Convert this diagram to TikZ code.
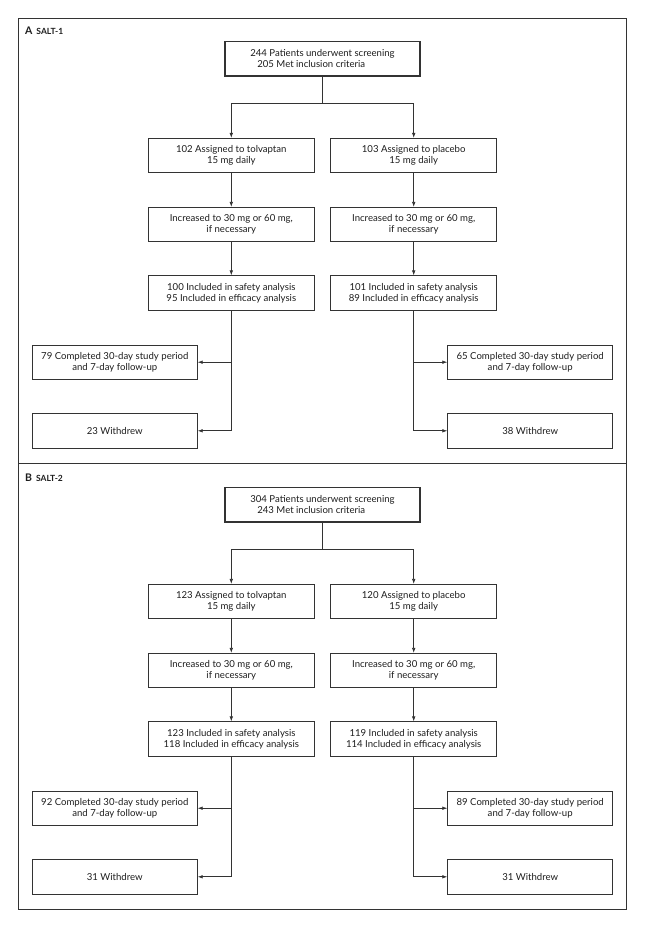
\documentclass[tikz,border=0pt]{standalone}
\usepackage{fontspec}
\setmainfont{Lato}
\usetikzlibrary{arrows.meta}
\definecolor{ln}{HTML}{333333}
\definecolor{tx}{HTML}{1E1E1E}
\begin{document}
\begin{tikzpicture}[x=1pt,y=-1pt,
 box/.style={draw=ln, line width=0.8pt, rectangle, inner sep=0pt, align=center,
   font=\fontsize{9.6}{11}\selectfont, text=tx, minimum height=34.4pt},
 topbox/.style={box, line width=1.1pt, minimum width=195pt, align=left},
 armbox/.style={box, minimum width=166pt},
 sidebox/.style={box, minimum width=165pt},
 arr/.style={draw=ln, line width=0.7pt, -{Latex[length=5pt,width=3.6pt]}},
 con/.style={draw=ln, line width=0.7pt},
 frame/.style={draw=ln, line width=0.9pt},
 plabel/.style={anchor=base west, inner sep=0pt, text=tx}]
\useasboundingbox (0,0) rectangle (645,928);
\fill[white] (0,0) rectangle (645,928);
% frame
\draw[frame] (18.3,18.3) rectangle (626.7,909);
\draw[frame] (18.3,463.3) -- (626.7,463.3);

% ---------- Panel A ----------
\node[plabel] (la) at (25,35) {\fontsize{10.5}{12}\selectfont\bfseries A\hspace{4pt}\fontsize{8.5}{10}\selectfont SALT-1};
\node[topbox] (a0) at (322.5,58.8) {244 Patients underwent screening\\\hspace*{7pt}205 Met inclusion criteria};
\node[armbox] (a1l) at (231.3,155.5) {102 Assigned to tolvaptan\\15 mg daily};
\node[armbox] (a1r) at (413.7,155.5) {103 Assigned to placebo\\15 mg daily};
\node[armbox] (a2l) at (231.3,224.5) {Increased to 30 mg or 60 mg,\\if necessary};
\node[armbox] (a2r) at (413.7,224.5) {Increased to 30 mg or 60 mg,\\if necessary};
\node[armbox] (a3l) at (231.3,293) {100 Included in safety analysis\\95 Included in efficacy analysis};
\node[armbox] (a3r) at (413.7,293) {101 Included in safety analysis\\89 Included in efficacy analysis};
\node[sidebox] (a4l) at (114.8,362.2) {79 Completed 30-day study period\\and 7-day follow-up};
\node[sidebox] (a4r) at (530.2,362.2) {65 Completed 30-day study period\\and 7-day follow-up};
\node[sidebox] (a5l) at (114.8,430.8) {23 Withdrew};
\node[sidebox] (a5r) at (530.2,430.8) {38 Withdrew};
\coordinate (ab) at (322.5,103.3);
\draw[con] (a0) -- (ab);
\draw[arr] (ab) -| (a1l);
\draw[arr] (ab) -| (a1r);
\draw[arr] (a1l) -- (a2l);
\draw[arr] (a1r) -- (a2r);
\draw[arr] (a2l) -- (a3l);
\draw[arr] (a2r) -- (a3r);
\draw[arr] (a3l) |- (a5l);
\draw[arr] (a3r) |- (a5r);
\draw[arr] (a3l.south |- a4l) -- (a4l);
\draw[arr] (a3r.south |- a4r) -- (a4r);

% ---------- Panel B ----------
\begin{scope}[shift={(0,446)}]
\node[plabel] (lb) at (25,35) {\fontsize{10.5}{12}\selectfont\bfseries B\hspace{4pt}\fontsize{8.5}{10}\selectfont SALT-2};
\node[topbox] (b0) at (322.5,58.8) {304 Patients underwent screening\\\hspace*{7pt}243 Met inclusion criteria};
\node[armbox] (b1l) at (231.3,155.5) {123 Assigned to tolvaptan\\15 mg daily};
\node[armbox] (b1r) at (413.7,155.5) {120 Assigned to placebo\\15 mg daily};
\node[armbox] (b2l) at (231.3,224.5) {Increased to 30 mg or 60 mg,\\if necessary};
\node[armbox] (b2r) at (413.7,224.5) {Increased to 30 mg or 60 mg,\\if necessary};
\node[armbox] (b3l) at (231.3,293) {123 Included in safety analysis\\118 Included in efficacy analysis};
\node[armbox] (b3r) at (413.7,293) {119 Included in safety analysis\\114 Included in efficacy analysis};
\node[sidebox] (b4l) at (114.8,362.2) {92 Completed 30-day study period\\and 7-day follow-up};
\node[sidebox] (b4r) at (530.2,362.2) {89 Completed 30-day study period\\and 7-day follow-up};
\node[sidebox] (b5l) at (114.8,430.8) {31 Withdrew};
\node[sidebox] (b5r) at (530.2,430.8) {31 Withdrew};
\coordinate (bb) at (322.5,103.3);
\draw[con] (b0) -- (bb);
\draw[arr] (bb) -| (b1l);
\draw[arr] (bb) -| (b1r);
\draw[arr] (b1l) -- (b2l);
\draw[arr] (b1r) -- (b2r);
\draw[arr] (b2l) -- (b3l);
\draw[arr] (b2r) -- (b3r);
\draw[arr] (b3l) |- (b5l);
\draw[arr] (b3r) |- (b5r);
\draw[arr] (b3l.south |- b4l) -- (b4l);
\draw[arr] (b3r.south |- b4r) -- (b4r);
\end{scope}
\end{tikzpicture}
\end{document}
